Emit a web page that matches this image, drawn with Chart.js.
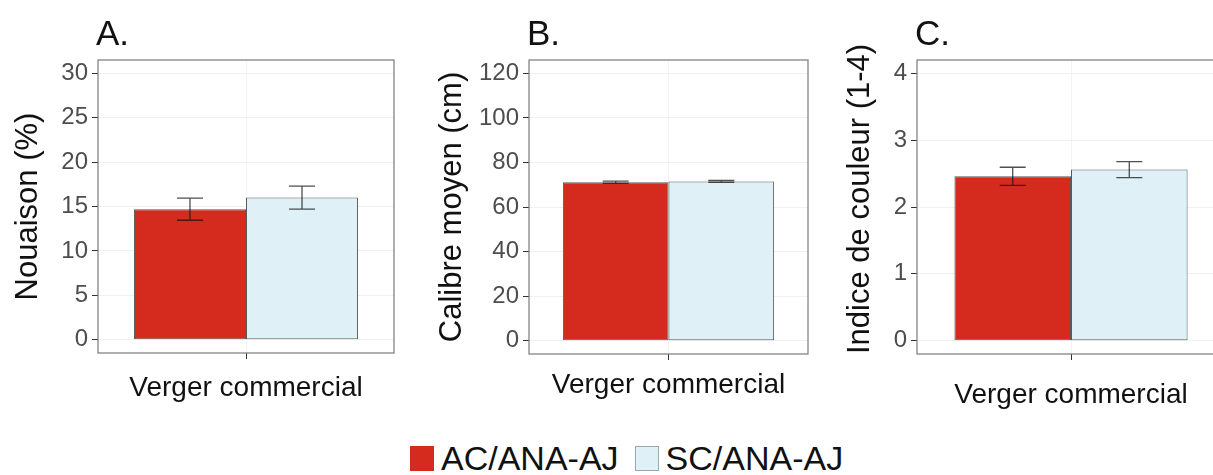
<!DOCTYPE html>
<html>
<head>
<meta charset="utf-8">
<script src="https://cdn.jsdelivr.net/npm/chart.js@4"></script>
<style>
  html, body { margin:0; padding:0; background:#fff; width:1213px; height:475px; overflow:hidden; }
  .panel { position:absolute; top:0; }
  #legend { position:absolute; top:439px; left:410px; display:flex; align-items:center;
    font-family:'Liberation Sans', Arial, sans-serif; font-size:34px; color:#111; }
  .sw { width:24px; height:25px; box-sizing:border-box; margin-right:7px; }
  .item { display:flex; align-items:center; margin-right:16px; }
</style>
</head>
<body>
<div class="panel" style="left:0px;"><canvas id="cA"></canvas></div>
<div class="panel" style="left:410px;"><canvas id="cB"></canvas></div>
<div class="panel" style="left:820px;"><canvas id="cC"></canvas></div>
<div id="legend"></div>
<script>
// ---- data ----
const categories = ['Verger commercial'];
const seriesNames = ['AC/ANA-AJ', 'SC/ANA-AJ'];
const seriesColors = ['#d52b1f', '#dff1f6'];

const nouaisonMeans = [14.7, 16.0];
const nouaisonErrors = [1.25, 1.3];
const nouaisonTicks = [0, 5, 10, 15, 20, 25, 30];

const calibreMeans = [71.1, 71.5];
const calibreErrors = [0.5, 0.4];
const calibreTicks = [0, 20, 40, 60, 80, 100, 120];

const couleurMeans = [2.46, 2.56];
const couleurErrors = [0.135, 0.12];
const couleurTicks = [0, 1, 2, 3, 4];

const panelLetters = ['A.', 'B.', 'C.'];
const yTitles = ['Nouaison (%)', 'Calibre moyen (cm)', 'Indice de couleur (1-4)'];

const FONT = "'Liberation Sans', Arial, sans-serif";

const frameAndErrors = {
  id: 'frameAndErrors',
  afterDatasetsDraw(chart, args, opts) {
    const ctx = chart.ctx;
    const ys = chart.scales.y;
    ctx.save();
    chart.data.datasets.forEach((ds, i) => {
      const bar = chart.getDatasetMeta(i).data[0];
      const m = ds.data[0], e = ds.errors[0];
      const yHi = ys.getPixelForValue(m + e);
      const yLo = ys.getPixelForValue(m - e);
      const half = 13;
      ctx.strokeStyle = 'rgba(20,20,20,0.75)';
      ctx.lineWidth = 1.3;
      ctx.beginPath();
      ctx.moveTo(bar.x, yHi); ctx.lineTo(bar.x, yLo);
      ctx.moveTo(bar.x - half, yHi); ctx.lineTo(bar.x + half, yHi);
      ctx.moveTo(bar.x - half, yLo); ctx.lineTo(bar.x + half, yLo);
      ctx.stroke();
    });
    const a = chart.chartArea;
    ctx.strokeStyle = '#7a7a7a';
    ctx.lineWidth = 1.2;
    ctx.strokeRect(a.left, a.top, a.right - a.left, a.bottom - a.top);
    ctx.fillStyle = '#111';
    ctx.font = '35px ' + FONT;
    ctx.textAlign = 'left';
    ctx.textBaseline = 'alphabetic';
    ctx.fillText(opts.letter, a.left - 2, 45);
    ctx.restore();
  }
};

function makePanel(id, yAxisW, padRight, xAxisH, titlePad, titleAlign, xLabelPad, means, errors, ticks, yMin, yMax, letter, yTitle) {
  const cv = document.getElementById(id);
  return new Chart(cv, {
    type: 'bar',
    data: {
      labels: categories,
      datasets: seriesNames.map((name, i) => ({
        label: name,
        data: [means[i]],
        errors: [errors[i]],
        backgroundColor: seriesColors[i],
        borderColor: '#5a5a5a',
        borderWidth: 1,
        borderSkipped: false,
        categoryPercentage: 0.757,
        barPercentage: 1.0
      }))
    },
    options: {
      responsive: false,
      animation: false,
      devicePixelRatio: 1,
      layout: { padding: { top: 60, left: 0, right: padRight, bottom: 0 } },
      plugins: {
        legend: { display: false },
        tooltip: { enabled: false },
        frameAndErrors: { letter: letter }
      },
      scales: {
        x: {
          offset: true,
          grid: { offset: false, color: '#f3f3f3', tickColor: '#333', tickLength: 6, drawTicks: true },
          border: { display: false },
          ticks: { color: '#111', font: { family: FONT, size: 28 }, padding: xLabelPad },
          afterFit(axis) { axis.height = xAxisH; }
        },
        y: {
          min: yMin, max: yMax,
          afterBuildTicks(axis) { axis.ticks = ticks.map(v => ({ value: v })); },
          grid: { color: '#f0f0f0', tickColor: '#333', tickLength: 6 },
          border: { display: false },
          ticks: { color: '#4d4d4d', font: { family: FONT, size: 24 }, padding: 4 },
          title: { display: true, text: yTitle, align: titleAlign, color: '#111', font: { family: FONT, size: 31 }, padding: { top: titlePad, bottom: 0 } },
          afterFit(axis) { axis.width = yAxisW; }
        }
      }
    },
    plugins: [frameAndErrors]
  });
}

function sizeCanvas(id, w, h) {
  const c = document.getElementById(id);
  c.width = w; c.height = h;
  c.style.width = w + 'px'; c.style.height = h + 'px';
}
sizeCanvas('cA', 410, 420);
sizeCanvas('cB', 410, 420);
sizeCanvas('cC', 420, 420);

makePanel('cA', 98, 16, 67, 10, 'center', 12, nouaisonMeans, nouaisonErrors, nouaisonTicks, -1.5, 31.5, panelLetters[0], yTitles[0]);
makePanel('cB', 119, 12, 66, 24, 'center', 8, calibreMeans, calibreErrors, calibreTicks, -6, 126, panelLetters[1], yTitles[1]);
makePanel('cC', 97, 15, 66, 22, 'start', 18, couleurMeans, couleurErrors, couleurTicks, -0.2, 4.2, panelLetters[2], yTitles[2]);

// legend
const lg = document.getElementById('legend');
seriesNames.forEach((n, i) => {
  const it = document.createElement('div'); it.className = 'item';
  const sw = document.createElement('div'); sw.className = 'sw';
  sw.style.background = seriesColors[i];
  sw.style.border = i === 1 ? '1px solid #9aa' : '1px solid ' + seriesColors[i];
  const tx = document.createElement('span'); tx.textContent = n;
  it.appendChild(sw); it.appendChild(tx); lg.appendChild(it);
});
</script>
</body>
</html>
